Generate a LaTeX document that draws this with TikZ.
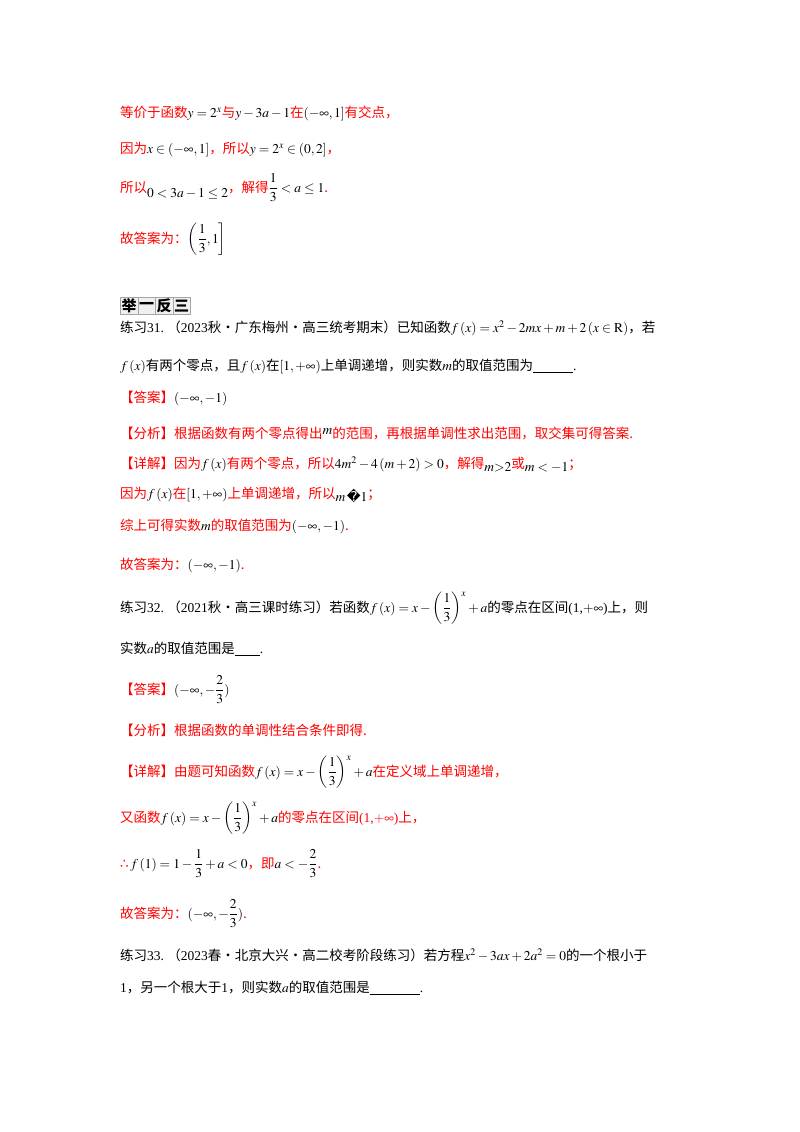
\documentclass[tikz,border=0pt]{standalone}
\usepackage{amsmath}
\usepackage{mathptmx}
\usepackage{fontspec}
\setmainfont{Liberation Serif}
\newfontfamily\cjk{Noto Sans CJK SC}
\newfontfamily\dvs{DejaVu Sans}
\newcommand{\C}[1]{{\cjk #1}}
\newcommand{\R}[1]{{\color{red}\cjk #1}}
\begin{document}
\begin{tikzpicture}[x=1pt,y=-1pt,
  ln/.style={anchor=base west,inner sep=0pt,font=\fontsize{13.5}{14}\selectfont},
  cell/.style={draw=gray!70,fill=gray!12,minimum width=17.5pt,minimum height=17pt,inner sep=0pt,font=\fontsize{15}{15}\selectfont\cjk\bfseries}]
\useasboundingbox (0,0) rectangle (800,1132);
\node[cell] (c1) at (129,306) {举};
\node[cell] (c2) at (146.5,306) {一};
\node[cell] (c3) at (164,306) {反};
\node[cell] (c4) at (181.5,306) {三};
\node[ln] (l1) at (120,117) {\R{等价于函数}$y=2^x$\R{与}$y-3a-1$\R{在}$\left(-\infty,1\right]$\R{有交点，}};
\node[ln] (l2) at (120,153) {\R{因为}$x\in\left(-\infty,1\right]$\R{，所以}$y=2^x\in\left(0,2\right]$\R{，}};
\node[ln] (l3) at (120,192) {\R{所以}\raisebox{-5pt}{$0<3a-1\le 2$}\R{，解得}$\dfrac13<a\le 1$\R{.}};
\node[ln] (l4) at (120,243) {\R{故答案为：}$\left(\dfrac13,1\right]$};
\node[ln] (p31) at (120,332) {\C{练习}31.\ \C{（}2023\C{秋·广东梅州·高三统考期末）已知函数}$f\left(x\right)=x^2-2mx+m+2\left(x\in\mathrm{R}\right)$\C{，若}};
\node[ln] (p31b) at (120,370) {$f\left(x\right)$\C{有两个零点，且}$f\left(x\right)$\C{在}$\left[1,+\infty\right)$\C{上单调递增，则实数}$m$\C{的取值范围为}\underline{\hspace{40pt}}.};
\node[ln] (a31) at (120,402) {\R{【答案】}$\left(-\infty,-1\right)$};
\node[ln] (f31) at (120,438) {\R{【分析】根据函数有两个零点得出}\raisebox{4pt}{$m$}\R{的范围，再根据单调性求出范围，取交集可得答案.}};
\node[ln] (d31) at (120,468) {\R{【详解】因为}$f\left(x\right)$\R{有两个零点，所以}$4m^2-4\left(m+2\right)>0$\R{，解得}\raisebox{-3pt}{$m{>}2$}\R{或}\raisebox{-3pt}{$m<-1$}\R{；}};
\node[ln] (e31) at (120,498) {\R{因为}$f\left(x\right)$\R{在}$\left[1,+\infty\right)$\R{上单调递增，所以}\raisebox{-3pt}{$m\,${\dvs\char"FFFD}$1$}\R{；}};
\node[ln] (g31) at (120,530) {\R{综上可得实数}$m$\R{的取值范围为}$\left(-\infty,-1\right)$\R{.}};
\node[ln] (h31) at (120,569) {\R{故答案为：}$\left(-\infty,-1\right)$\R{.}};
\node[ln] (p32) at (120,612) {\C{练习}32.\ \C{（}2021\C{秋·高三课时练习）若函数}$f\left(x\right)=x-\left(\dfrac13\right)^x+a$\C{的零点在区间}(1,$+\infty$)\C{上，则}};
\node[ln] (p32b) at (120,653) {\C{实数}$a$\C{的取值范围是}\underline{\hspace{25pt}}.};
\node[ln] (a32) at (120,694) {\R{【答案】}$(-\infty,-\dfrac23)$};
\node[ln] (f32) at (120,735) {\R{【分析】根据函数的单调性结合条件即得.}};
\node[ln] (d32) at (120,776) {\R{【详解】由题可知函数}$f\left(x\right)=x-\left(\dfrac13\right)^x+a$\R{在定义域上单调递增，}};
\node[ln] (e32) at (120,822) {\R{又函数}$f\left(x\right)=x-\left(\dfrac13\right)^x+a$\R{的零点在区间}{\color{red}(1,$+\infty$)}\R{上，}};
\node[ln] (g32) at (120,868) {{\color{red}\dvs ∴}$\,f\left(1\right)=1-\dfrac13+a<0$\R{，即}$a<-\dfrac23$\R{.}};
\node[ln] (h32) at (120,918) {\R{故答案为：}$(-\infty,-\dfrac23)$\R{.}};
\node[ln] (p33) at (120,960) {\C{练习}33.\ \C{（}2023\C{春·北京大兴·高二校考阶段练习）若方程}$x^2-3ax+2a^2=0$\C{的一个根小于}};
\node[ln] (p33b) at (120,992) {1\C{，另一个根大于}1\C{，则实数}$a$\C{的取值范围是}\underline{\hspace{50pt}}.};
\end{tikzpicture}
\end{document}
